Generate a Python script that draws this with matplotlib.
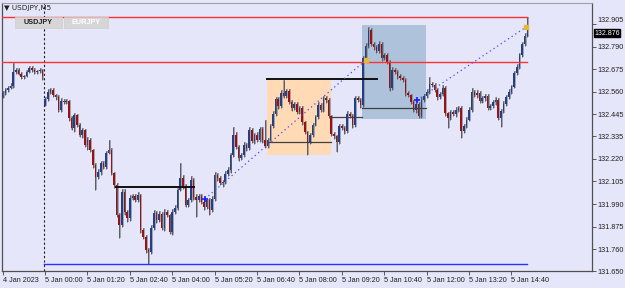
#!/usr/bin/env python3
"""USDJPY M5 candles, MT4 style, with the drawn objects on top"""

import numpy as np
import matplotlib
matplotlib.use("Agg")
import matplotlib.pyplot as plt
from matplotlib.patches import Rectangle

plt.rcParams['font.family'] = ['Liberation Sans Narrow', 'Liberation Sans', 'DejaVu Sans']

# close of every 5 min bar, 4 Jan 22:40 .. 5 Jan 15:10
closes = [
    132.555, 132.570, 132.580, 132.590, 132.661, 132.671, 132.651, 132.636,
    132.641, 132.661, 132.681, 132.671, 132.661, 132.666, 132.671, 132.641,
    132.524, 132.560, 132.570, 132.544, 132.534, 132.468, 132.514, 132.509,
    132.514, 132.428, 132.377, 132.443, 132.392, 132.342, 132.367, 132.291,
    132.316, 132.266, 132.189, 132.129, 132.154, 132.200, 132.179, 132.250,
    132.266, 132.149, 132.088, 131.936, 131.885,
    132.053, 131.951, 131.921, 132.022, 132.032, 132.012, 132.037, 131.860,
    131.824, 131.759, 131.748, 131.870, 131.946, 131.911, 131.941, 131.870,
    131.951, 131.936, 131.850, 131.951, 131.971, 132.063, 132.124, 132.083,
    131.987, 132.012, 132.113, 132.027, 132.012, 132.032, 132.002, 131.977,
    132.012, 131.961, 132.017,
    132.139, 132.124, 132.098, 132.103, 132.144, 132.164, 132.240, 132.342,
    132.281, 132.225, 132.240, 132.291, 132.276, 132.367, 132.311, 132.342,
    132.316, 132.372, 132.316, 132.286, 132.316, 132.387, 132.448, 132.524,
    132.489, 132.555, 132.539, 132.565, 132.509, 132.478, 132.499, 132.458,
    132.478, 132.408, 132.357, 132.306, 132.342, 132.392, 132.433,
    132.494, 132.468, 132.529, 132.519, 132.438, 132.347, 132.337, 132.306,
    132.387, 132.377, 132.362, 132.448, 132.438, 132.392, 132.529, 132.519,
    132.494, 132.732, 132.793, 132.874, 132.803, 132.788, 132.767, 132.803,
    132.732, 132.747, 132.712, 132.580, 132.671, 132.661, 132.641, 132.631,
    132.620, 132.555, 132.544, 132.509, 132.468, 132.499, 132.438,
    132.519, 132.539, 132.560, 132.600, 132.595, 132.570, 132.534, 132.549,
    132.580, 132.453, 132.428, 132.458, 132.448, 132.468, 132.478, 132.362,
    132.387, 132.418, 132.468, 132.560, 132.544, 132.555, 132.514, 132.529,
    132.539, 132.478, 132.489, 132.509, 132.519, 132.428, 132.463, 132.499,
    132.534, 132.560, 132.585, 132.656, 132.686, 132.747, 132.803, 132.844,
    132.876,
]
first_open = 132.535
gap_opens = {16: 132.494}  # session open gap at 5 Jan 00:00

# wick lengths above / below the body, in 0.001
up_wick = [
    10, 8, 12, 15, 46, 10, 8, 12, 6, 10, 12, 8, 10, 6, 8, 5,
    10, 12, 10, 8, 6, 10, 15, 8, 10, 5, 8, 12, 6, 10, 8, 5,
    15, 8, 5, 10, 12, 8, 10, 10, 50, 8, 6, 10, 8, 15, 12, 10,
    12, 10, 8, 15, 5, 8, 10, 6, 12, 15, 10, 12, 8, 15, 10, 6,
    12, 15, 10, 76, 12, 10, 8, 20, 10, 12, 8, 10, 12, 6, 8, 15,
    12, 10, 8, 10, 15, 12, 10, 41, 12, 8, 10, 15, 10, 12, 8, 10,
    12, 10, 8, 100, 10, 12, 15, 10, 8, 12, 66, 10, 8, 12, 10, 8,
    10, 8, 6, 5, 10, 12, 10, 15, 8, 12, 10, 8, 6, 10, 5, 12,
    10, 8, 15, 10, 8, 12, 10, 8, 12, 15, 15, 8, 10, 12, 15, 8,
    10, 12, 8, 15, 10, 8, 12, 10, 8, 10, 6, 8, 12, 10, 15, 10,
    12, 35, 10, 8, 10, 12, 15, 8, 6, 12, 10, 15, 12, 8, 10, 12,
    15, 20, 10, 12, 8, 10, 12, 8, 10, 12, 15, 8, 10, 12, 10, 15,
    12, 10, 15, 10, 12, 15, 66,
]
dn_wick = [
    8, 10, 12, 8, 10, 12, 8, 10, 12, 8, 6, 10, 8, 12, 10, 20,
    8, 10, 12, 10, 15, 10, 8, 12, 10, 15, 12, 20, 10, 12, 15, 10,
    25, 12, 15, 66, 10, 15, 12, 10, 8, 12, 15, 12, 66, 12, 15, 20,
    15, 10, 12, 10, 15, 12, 20, 61, 12, 10, 15, 12, 10, 15, 12, 10,
    15, 12, 10, 8, 15, 12, 10, 12, 15, 86, 10, 12, 15, 10, 25, 12,
    10, 15, 12, 20, 10, 12, 15, 10, 12, 15, 10, 12, 15, 10, 12, 15,
    10, 12, 15, 12, 10, 8, 12, 10, 15, 10, 12, 8, 12, 15, 10, 12,
    10, 15, 12, 66, 12, 10, 8, 10, 12, 10, 15, 12, 10, 15, 50, 12,
    10, 15, 12, 10, 15, 12, 10, 15, 10, 8, 12, 10, 15, 12, 10, 15,
    12, 10, 15, 12, 10, 15, 12, 10, 15, 12, 10, 12, 15, 10, 12, 10,
    12, 10, 8, 12, 15, 10, 12, 15, 50, 10, 12, 15, 10, 35, 12, 10,
    8, 12, 10, 15, 12, 10, 15, 12, 10, 12, 15, 10, 45, 12, 10, 12,
    10, 8, 12, 10, 8, 10, 8,
]

x_tick_bars = [0, 16, 32, 48, 64, 80, 96, 112, 128, 144, 160, 176, 192]
x_labels = ["4 Jan 2023", "5 Jan 00:00", "5 Jan 01:20", "5 Jan 02:40", "5 Jan 04:00",
            "5 Jan 05:20", "5 Jan 06:40", "5 Jan 08:00", "5 Jan 09:20", "5 Jan 10:40",
            "5 Jan 12:00", "5 Jan 13:20", "5 Jan 14:40"]
y_ticks = [132.905, 132.790, 132.675, 132.560, 132.445, 132.335,
           132.220, 132.105, 131.990, 131.875, 131.760, 131.650]
last_price = 132.876

# objects drawn on the chart (bar index, price)
red_levels = [132.940, 132.712]
blue_level = 131.688
black_level_1 = (42.8, 72.2, 132.078)
black_level_2 = (99.8, 141.3, 132.625)
orange_box = (99.8, 123.9, 132.240, 132.621)
steel_box = (135.6, 159.8, 132.423, 132.900)
gray_levels = [(99.8, 123.9, 132.306), (123.9, 135.6, 132.433), (135.6, 159.8, 132.479)]
trend_1 = ([76.4, 137.1], [132.017, 132.722])
trend_2 = ([156.4, 197.5], [132.519, 132.889])
session_bar = 15.6

BG = '#e6e6fa'

fig = plt.figure(figsize=(6.25, 2.88), dpi=100, facecolor=BG)
ax = fig.add_axes([2 / 625, 17 / 288, 590 / 625, 268 / 288], facecolor=BG)

c = np.array(closes)
o = np.r_[first_open, c[:-1]]
for k, v in gap_opens.items():
    o[k] = v
idx = np.arange(len(c))
top = np.maximum(o, c)
bot = np.minimum(o, c)
hi = top + np.array(up_wick) / 1000
lo = bot - np.array(dn_wick) / 1000
bull = c >= o

# boxes behind everything
for (x0, x1, y0, y1), col in [(orange_box, '#ffdab4'), (steel_box, '#aec2dc')]:
    ax.add_patch(Rectangle((x0, y0), x1 - x0, y1 - y0, facecolor=col, edgecolor='none', zorder=1))

ax.axvline(session_bar, color='#202020', lw=0.8, ls=(0, (2, 2)), zorder=2)

# candles
ax.vlines(idx + 0.35, lo, hi, color='#8a8a96', lw=1.3, alpha=0.8, zorder=3)
ax.vlines(idx, lo, hi, color='#505050', lw=0.6, zorder=3)
body_h = np.maximum(top - bot, 0.003)
ax.bar(idx[bull], body_h[bull], bottom=bot[bull], width=0.6, color='#22408a', zorder=4)
ax.bar(idx[~bull], body_h[~bull], bottom=bot[~bull], width=0.6, color='#9c1010', zorder=4)

# lines
last = len(c) - 1
for lvl in red_levels:
    ax.plot([-0.5, last], [lvl, lvl], color='#ff3030', lw=1.0, zorder=5)
ax.plot([session_bar, last], [blue_level, blue_level], color='#3030ff', lw=1.0, zorder=5)
for x0, x1, lvl in [black_level_1, black_level_2]:
    ax.plot([x0, x1], [lvl, lvl], color='#101010', lw=1.4, zorder=5)
for x0, x1, lvl in gray_levels:
    ax.plot([x0, x1], [lvl, lvl], color='#404040', lw=0.9, zorder=5)
for xs, ys in [trend_1, trend_2]:
    ax.plot(xs, ys, color='#4848ff', lw=0.9, ls=(0, (1, 2.5)), zorder=5)
    ax.plot(xs[0], ys[0], marker='+', color='#1c1cff', ms=4, mew=1.2, zorder=6)
    ax.plot(xs[1], ys[1], marker='s', color='#e8b830', ms=2.5, zorder=6)

ax.set_xlim(-0.25, 222.4)
ax.set_ylim(131.6536, 133.0112)

ax.set_xticks(x_tick_bars)
ax.set_xticklabels(x_labels)
for lab in ax.get_xticklabels():
    lab.set_ha('left')
ax.yaxis.tick_right()
ax.set_yticks(y_ticks)
ax.set_yticklabels([f"{v:.3f}" for v in y_ticks])
ax.tick_params(axis='both', direction='out', length=3, width=0.6, color='#404040',
               labelsize=5.2, labelcolor='#202020', pad=1)
# the price tag sits where the top label would be pushed; nudge that label up a touch
ax.get_yticklabels()[0].set_va('bottom')

for side in ['left', 'bottom', 'right']:
    ax.spines[side].set_color('#505050')
    ax.spines[side].set_linewidth(0.9)
ax.spines['top'].set_color('#a0a0a8')
ax.spines['top'].set_linewidth(0.8)

# current price tag
ax.text(1.004, last_price, f"{last_price:.3f}", transform=ax.get_yaxis_transform(),
        fontsize=5.0, color='white', va='top', ha='left', zorder=7,
        bbox=dict(boxstyle='square,pad=0.08', facecolor='black', edgecolor='black'))

# header and symbol buttons
fig.text(4 / 625, 1 - 8 / 288, "\u25bc USDJPY,M5", fontsize=5.2, color='#202020',
         va='center', ha='left', family=['Liberation Sans Narrow', 'DejaVu Sans'])
for (x0, x1, name, col) in [(15, 62, "USDJPY", '#202020'), (64, 108, "EURJPY", 'white')]:
    fig.patches.append(Rectangle((x0 / 625, 1 - 28 / 288), (x1 - x0) / 625, 11 / 288,
                                 transform=fig.transFigure, facecolor='#d6d6d6',
                                 edgecolor='#cfcfcf', lw=0.5, zorder=8))
    fig.text((x0 + x1) / 2 / 625, 1 - 22.5 / 288, name, fontsize=5.2, weight='bold',
             color=col, ha='center', va='center', zorder=9)

plt.savefig("out.png", dpi=100, facecolor=BG)
